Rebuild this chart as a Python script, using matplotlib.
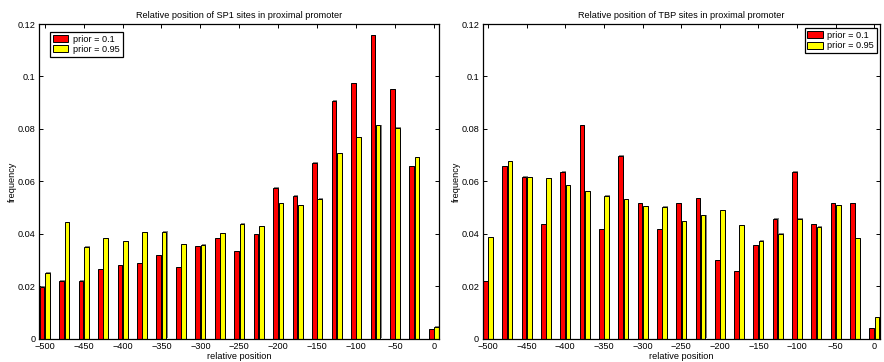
import numpy as np
import matplotlib
matplotlib.use("Agg")
import matplotlib.pyplot as plt
from matplotlib.patches import Patch
import matplotlib.patheffects as pe

plt.rcParams['font.family'] = ['Liberation Sans', 'DejaVu Sans']

# bin centres (relative position, bp)
positions = list(range(-500, 1, 25))
series_labels = ["prior = 0.1", "prior = 0.95"]
xticks = list(range(-500, 1, 50))
yticks = [0, 0.02, 0.04, 0.06, 0.08, 0.1, 0.12]
ytick_labels = ["0", "0.02", "0.04", "0.06", "0.08", "0.1", "0.12"]

# SP1 site frequencies
sp1_low = [0.0198, 0.0221, 0.0221, 0.0265, 0.0280, 0.0287, 0.0318, 0.0272,
           0.0353, 0.0383, 0.0333, 0.0398, 0.0575, 0.0545, 0.0671, 0.0908,
           0.0974, 0.1158, 0.0951, 0.0657, 0.0036]
sp1_high = [0.0252, 0.0444, 0.0351, 0.0384, 0.0371, 0.0406, 0.0408, 0.0360,
            0.0359, 0.0402, 0.0439, 0.0429, 0.0517, 0.0510, 0.0534, 0.0707,
            0.0768, 0.0815, 0.0805, 0.0693, 0.0045]

# TBP site frequencies
tbp_low = [0.0219, 0.0657, 0.0617, 0.0437, 0.0636, 0.0815, 0.0418, 0.0697,
           0.0516, 0.0418, 0.0516, 0.0536, 0.0299, 0.0258, 0.0357, 0.0458,
           0.0636, 0.0436, 0.0516, 0.0516, 0.0040]
tbp_high = [0.0387, 0.0676, 0.0615, 0.0611, 0.0585, 0.0562, 0.0545, 0.0533,
            0.0506, 0.0503, 0.0448, 0.0470, 0.0489, 0.0432, 0.0374, 0.0400,
            0.0458, 0.0427, 0.0510, 0.0383, 0.0082]

colors = ["#ff0000", "#ffff00"]
FS = 6.6

fig = plt.figure(figsize=(8.84, 3.62), dpi=100)
W, H = 884.0, 362.0
bottom = (H - 338.7) / H
height = 314.7 / H
ax1 = fig.add_axes([39.3 / W, bottom, 400.0 / W, height])
ax2 = fig.add_axes([482.7 / W, bottom, 397.0 / W, height])

shadow = [pe.SimplePatchShadow(offset=(0.8, 0.3), shadow_rgbFace="0.45", alpha=0.9),
          pe.Normal()]


def draw_panel(ax, low, high, title, legend_loc, anchor):
    x = np.array(positions, dtype=float)
    w = 6.0
    off = 3.4
    ax.bar(x - off, low, width=w, color=colors[0], edgecolor="black",
           linewidth=0.7, path_effects=shadow, zorder=2)
    ax.bar(x + off, high, width=w, color=colors[1], edgecolor="black",
           linewidth=0.7, path_effects=shadow, zorder=2)
    ax.set_xlim(-507, 7)
    ax.set_ylim(0, 0.12)
    ax.set_xticks(xticks)
    ax.set_yticks(yticks)
    ax.set_yticklabels(ytick_labels)
    ax.tick_params(direction="in", length=3.2, width=0.7, labelsize=FS,
                   top=True, right=True, pad=2.5)
    for s in ax.spines.values():
        s.set_linewidth(0.9)
        s.set_zorder(3)
    ax.set_title(title, fontsize=FS, pad=4.5)
    ax.set_xlabel("relative position", fontsize=FS, labelpad=0.5)
    ax.set_ylabel("frequency", fontsize=FS)
    ax.yaxis.set_label_coords(-0.055, 0.5)
    handles = [Patch(facecolor=c, edgecolor="black", linewidth=0.7) for c in colors]
    leg = ax.legend(handles, series_labels, loc=legend_loc, bbox_to_anchor=anchor,
                    borderaxespad=0, fontsize=FS, fancybox=False, framealpha=1,
                    edgecolor="black", handlelength=1.7, handleheight=0.8,
                    handletextpad=0.5, borderpad=0.3, labelspacing=0.12)
    leg.get_frame().set_linewidth(0.9)


draw_panel(ax1, sp1_low, sp1_high, "Relative position of SP1 sites in proximal promoter",
           "upper left", (0.027, 0.974))
draw_panel(ax2, tbp_low, tbp_high, "Relative position of TBP sites in proximal promoter",
           "upper right", (0.993, 0.986))

fig.savefig("out.png", dpi=100)
